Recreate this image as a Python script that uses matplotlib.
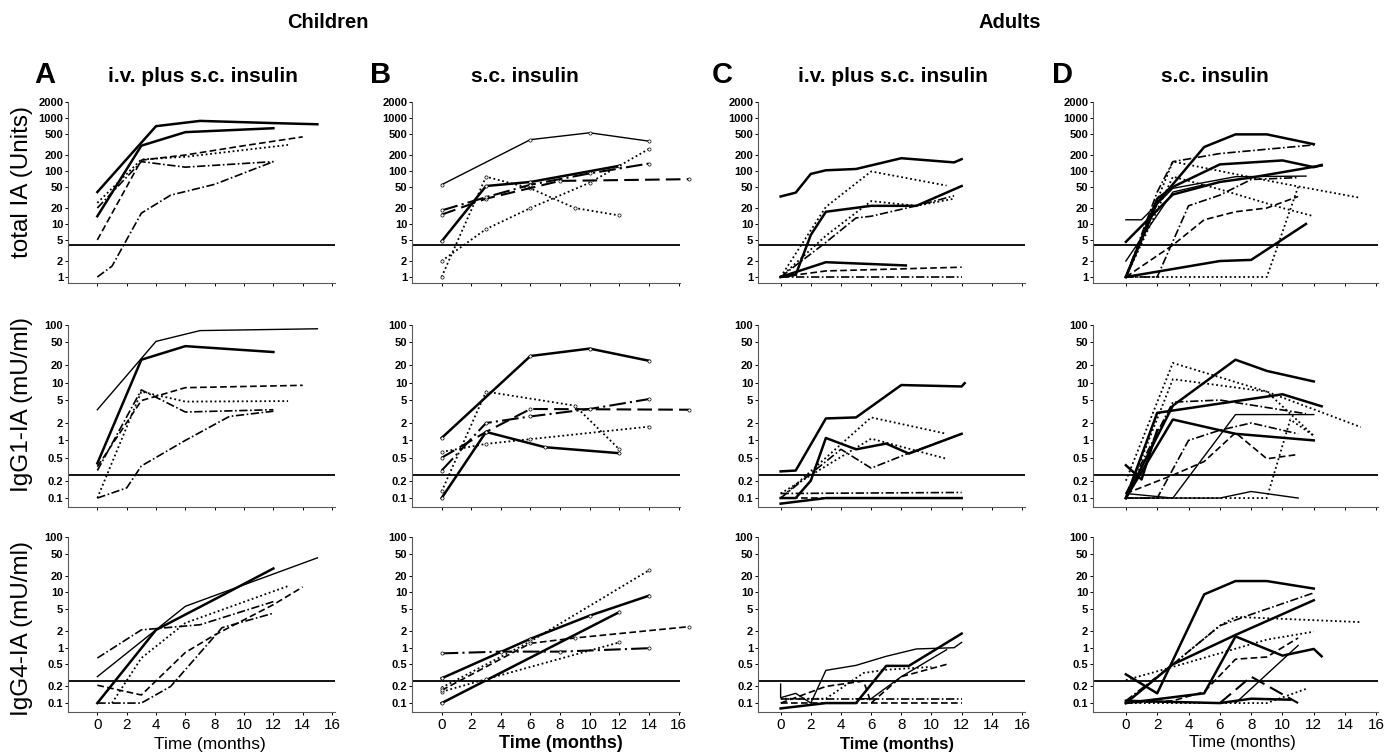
import matplotlib
matplotlib.use('Agg')
import matplotlib.pyplot as plt
from matplotlib.ticker import FixedLocator, FixedFormatter, NullLocator

plt.rcParams['font.family'] = ['Liberation Sans', 'DejaVu Sans']

# ---- data -------------------------------------------------------------
MONTH_TICKS = [0, 2, 4, 6, 8, 10, 12, 14, 16]
TOTAL_TICKS = [1, 2, 5, 10, 20, 50, 100, 200, 500, 1000, 2000]
IGG_TICKS = [0.1, 0.2, 0.5, 1, 2, 5, 10, 20, 50, 100]
CUTOFF_TOTAL = 4
CUTOFF_IGG = 0.25

# each series: (months, values); line style codes kept separately
A_TOTAL = [([0, 4, 7, 12, 15], [40, 700, 880, 800, 760]),
           ([0, 3, 6, 12], [14, 300, 540, 640]),
           ([0, 3, 6, 10, 14], [5, 160, 200, 300, 440]),
           ([0, 3, 6, 13], [25, 165, 185, 310]),
           ([0, 3, 6, 12], [20, 150, 118, 150]),
           ([0, 1, 3, 5, 8, 12], [1, 1.6, 16, 35, 56, 150])]
A_TOTAL_LS = ['S', 'S', 'd', 'o', 'c', 'c']

A_IGG1 = [([0, 4, 7, 15], [3.4, 52, 80, 86]),
          ([0, 3, 6, 12], [0.4, 25, 43, 34]),
          ([0, 3, 6, 14], [0.35, 4.9, 8.2, 9]),
          ([0, 3, 6, 13], [0.1, 7, 4.7, 4.8]),
          ([0, 3, 6, 12], [0.3, 7.5, 3.1, 3.4]),
          ([0, 2, 3, 6, 9, 12], [0.1, 0.15, 0.36, 1.0, 2.6, 3.2])]
A_IGG1_LS = ['s', 'S', 'd', 'o', 'c', 'c']

A_IGG4 = [([0, 4, 8, 12], [0.1, 2.1, 7.5, 27]),
          ([0, 6, 15], [0.3, 5.6, 42]),
          ([1, 3, 6, 13], [0.1, 0.65, 2.8, 13]),
          ([0, 3, 7, 12], [0.65, 2.1, 2.6, 6.8]),
          ([0, 3, 6, 8, 12, 14], [0.21, 0.14, 0.82, 1.7, 6, 12.5]),
          ([0, 3, 5, 8.5, 12], [0.1, 0.1, 0.2, 2.3, 4.2])]
A_IGG4_LS = ['S', 's', 'o', 'c', 'd', 'c']

B_TOTAL = [([0, 6, 10, 14], [55, 390, 525, 365]),
           ([0, 3, 6, 12], [4.7, 52, 62, 125]),
           ([0, 3, 6, 9, 12], [1, 78, 47, 20, 14.5]),
           ([0, 3, 6, 10, 14], [2, 8, 20, 60, 260]),
           ([0, 3, 8, 16.7], [15, 30, 65, 70]),
           ([0, 3, 6, 10, 14], [18, 32, 55, 90, 138])]
B_TOTAL_LS = ['s', 'S', 'o', 'o', 'D', 'C']

B_IGG1 = [([0, 6, 10, 14], [1.1, 29, 39, 24]),
          ([0, 3, 7, 12], [0.1, 1.4, 0.76, 0.6]),
          ([0, 3, 9, 12], [0.13, 7, 4, 0.7]),
          ([0, 3, 6, 14], [0.63, 0.87, 1.05, 1.73]),
          ([0, 3, 6, 16.7], [0.5, 1.4, 3.5, 3.4]),
          ([0, 3, 6, 10, 14], [0.3, 2, 2.6, 3.5, 5.2])]
B_IGG1_LS = ['S', 'S', 'o', 'o', 'D', 'C']

B_IGG4 = [([0, 6, 10, 14], [0.28, 1.45, 3.8, 8.7]),
          ([0, 12], [0.1, 4.4]),
          ([0, 6, 14], [0.19, 1.3, 25]),
          ([0, 3, 12], [0.16, 0.27, 1.25]),
          ([0, 6, 9, 16.7], [0.17, 1.2, 1.5, 2.4]),
          ([0, 4, 8, 14], [0.79, 0.85, 0.85, 0.98])]
B_IGG4_LS = ['S', 'S', 'o', 'o', 'd', 'C']

C_TOTAL = [([0, 1, 2, 3, 5, 8, 11.5, 12], [33, 39, 88, 103, 109, 174, 145, 167]),
           ([0, 3, 6, 11], [1, 21, 98, 53]),
           ([0, 1, 2, 3, 6, 9, 12], [1, 1.1, 6.2, 17, 22, 22, 52]),
           ([0, 3, 5, 6, 9, 11.5], [1, 4.5, 13, 14, 22, 34]),
           ([0, 3, 6, 9, 11.5], [1, 6, 27, 22, 30]),
           ([0, 3, 8.3], [1, 1.9, 1.65]),
           ([0, 3, 12], [1, 1.3, 1.53]),
           ([0, 12], [1, 1.0])]
C_TOTAL_LS = ['S', 'o', 'S', 'c', 'o', 'S', 'd', 'c']

C_IGG1 = [([0, 1, 3, 5, 8, 12, 12.2], [0.29, 0.3, 2.4, 2.5, 9.1, 8.6, 9.8]),
          ([0, 6, 11], [0.1, 2.5, 1.3]),
          ([0, 1, 2, 3, 5, 7, 8.5, 12], [0.1, 0.1, 0.2, 1.1, 0.7, 0.88, 0.59, 1.3]),
          ([0, 6, 11], [0.12, 1.07, 0.48]),
          ([0, 4, 6, 8.5, 12], [0.1, 0.7, 0.33, 0.6, 1.3]),
          ([0, 12], [0.12, 0.125]),
          ([0, 12], [0.1, 0.1]),
          ([0, 3, 12], [0.08, 0.1, 0.1])]
C_IGG1_LS = ['S', 'o', 'S', 'o', 'c', 'c', 'd', 'S']

C_IGG4 = [([0, 0, 1, 2, 3, 5, 7, 9, 11.5, 12],
           [0.22, 0.125, 0.15, 0.1, 0.39, 0.48, 0.7, 0.95, 1.0, 1.25]),
          ([0, 3, 5, 7, 8.5, 12], [0.08, 0.1, 0.1, 0.47, 0.47, 1.8]),
          ([5, 6, 8, 11], [0.12, 0.12, 0.3, 0.92]),
          ([0, 3, 5.5, 6, 8, 11], [0.1, 0.2, 0.25, 0.1, 0.3, 0.5]),
          ([0, 3, 5.5, 7, 10], [0.12, 0.12, 0.35, 0.4, 0.45]),
          ([0, 12], [0.12, 0.12]),
          ([0, 12], [0.1, 0.1])]
C_IGG4_LS = ['s', 'S', 's', 'd', 'o', 'c', 'd']

D_TOTAL = [([0, 2, 5, 7, 9, 12], [1, 25, 283, 490, 490, 320]),
           ([0, 2, 3, 6, 12], [1, 40, 150, 213, 310]),
           ([0, 2, 3, 6, 10, 12, 12.5], [1, 30, 50, 133, 158, 118, 130]),
           ([0, 3, 6, 8, 12.5], [4.6, 36, 62, 75, 127]),
           ([0, 1, 3, 7, 11.5], [12, 12, 47, 78, 80]),
           ([0, 3, 10, 15], [1, 150, 58, 31]),
           ([0, 3, 6, 10, 12], [1, 78, 45, 20, 14]),
           ([0, 2, 4, 6, 8, 11], [1, 1, 22, 35, 69, 75]),
           ([0, 3, 5, 7, 9, 11], [1, 4, 12, 17, 20, 33]),
           ([0, 9, 11], [1, 1, 50]),
           ([0, 6, 8, 11.5], [1, 2, 2.1, 10]),
           ([0, 3, 5], [2, 40, 55])]
D_TOTAL_LS = ['S', 'c', 'S', 'S', 's', 'o', 'o', 'c', 'd', 'o', 'S', 's']

D_IGG1 = [([0, 3, 7, 9, 12], [0.1, 4, 25, 16, 10.5]),
          ([0, 3, 9, 15], [0.2, 22, 7, 1.7]),
          ([0, 3, 9, 12], [0.1, 11.5, 7, 1.2]),
          ([0, 3, 6, 11.5], [0.12, 4.6, 5, 2.9]),
          ([0, 2, 10, 12.5], [0.1, 3, 6.3, 3.9]),
          ([0, 3, 7, 12], [0.1, 2.3, 1.3, 1.0]),
          ([0, 3, 7, 12], [0.1, 0.1, 2.8, 2.8]),
          ([0, 2, 4, 6, 8, 11], [0.1, 0.1, 1.0, 1.5, 2.0, 1.3]),
          ([0, 3, 5, 7, 9, 11], [0.12, 0.25, 0.43, 1.36, 0.48, 0.57]),
          ([0, 9, 10.5, 12], [0.1, 0.1, 2.3, 1.2]),
          ([0, 3, 6, 8, 11], [0.12, 0.1, 0.1, 0.13, 0.1]),
          ([0, 1, 2], [0.37, 0.21, 1.5])]
D_IGG1_LS = ['S', 'o', 'o', 'c', 'S', 'S', 's', 'c', 'd', 'o', 's', 'S']

D_IGG4 = [([0, 2, 5, 7, 9, 12], [0.33, 0.15, 9.2, 16, 16, 11.7]),
          ([0, 3, 6, 8, 12], [0.11, 0.5, 2.5, 4, 9.8]),
          ([0, 3, 7, 12], [0.1, 0.5, 1.7, 7.2]),
          ([0, 6, 7, 15], [0.1, 2.5, 3.6, 2.9]),
          ([0, 3, 9, 12], [0.26, 0.45, 1.4, 1.95]),
          ([0, 5, 7, 10, 12, 12.5], [0.1, 0.15, 1.6, 0.72, 0.95, 0.7]),
          ([0, 3, 5, 7, 9, 11], [0.1, 0.11, 0.16, 0.62, 0.68, 1.5]),
          ([6, 8, 11], [0.1, 0.3, 0.1]),
          ([7, 11], [0.1, 1.1]),
          ([0, 9, 11.5], [0.1, 0.1, 0.18]),
          ([0, 6, 8, 10.5], [0.11, 0.1, 0.12, 0.115])]
D_IGG4_LS = ['S', 'c', 'S', 'o', 'o', 'S', 'd', 'D', 's', 'o', 'S']

# ---- layout ------------------------------------------------------------
W, H = 1398, 756
STYLE = {
    'S': dict(ls='-', lw=1.8),
    's': dict(ls='-', lw=1.0),
    'd': dict(ls=(0, (4, 2)), lw=1.2),
    'D': dict(ls=(0, (7, 3)), lw=1.5),
    'o': dict(ls=(0, (1, 1.5)), lw=1.3),
    'c': dict(ls=(0, (5, 1.5, 1, 1.5)), lw=1.2),
    'C': dict(ls=(0, (8, 2, 1, 2)), lw=1.5),
}

cols = [(68, 335, (-2, 16.2)), (412, 680, (-2, 16.1)),
        (758, 1025, (-1.5, 16.2)), (1093, 1378, (-2.1, 16.1))]
rows = [(102, 283, (0.77, 2000), TOTAL_TICKS, CUTOFF_TOTAL),
        (325, 507, (0.07, 100), IGG_TICKS, CUTOFF_IGG),
        (537, 712, (0.069, 100), IGG_TICKS, CUTOFF_IGG)]
panels = [[(A_TOTAL, A_TOTAL_LS), (B_TOTAL, B_TOTAL_LS), (C_TOTAL, C_TOTAL_LS), (D_TOTAL, D_TOTAL_LS)],
          [(A_IGG1, A_IGG1_LS), (B_IGG1, B_IGG1_LS), (C_IGG1, C_IGG1_LS), (D_IGG1, D_IGG1_LS)],
          [(A_IGG4, A_IGG4_LS), (B_IGG4, B_IGG4_LS), (C_IGG4, C_IGG4_LS), (D_IGG4, D_IGG4_LS)]]


def fmt(v):
    return str(v) if v < 1 else str(int(v))


fig = plt.figure(figsize=(W / 100, H / 100), dpi=100)

for ri, (top, bot, ylim, yticks, cutoff) in enumerate(rows):
    for ci, (left, right, xlim) in enumerate(cols):
        ax = fig.add_axes([left / W, 1 - bot / H, (right - left) / W, (bot - top) / H])
        series, styles = panels[ri][ci]
        for (xs, ys), code in zip(series, styles):
            extra = {}
            if ci == 1:
                extra = dict(marker='o', ms=2.3, mfc='white', mec='black', mew=0.5)
            ax.plot(xs, ys, color='black', clip_on=False, **STYLE[code], **extra)
        ax.axhline(cutoff, color='black', lw=1.3)
        ax.set_yscale('log')
        ax.set_ylim(*ylim)
        ax.set_xlim(*xlim)
        ax.yaxis.set_major_locator(FixedLocator(yticks))
        ax.yaxis.set_major_formatter(FixedFormatter([fmt(v) for v in yticks]))
        ax.yaxis.set_minor_locator(NullLocator())
        ax.set_xticks(MONTH_TICKS)
        for s in ['top', 'right']:
            ax.spines[s].set_visible(False)
        for s in ['left', 'bottom']:
            ax.spines[s].set_color('0.35')
            ax.spines[s].set_linewidth(0.8)
        ax.tick_params(axis='y', length=2.5, width=0.7, pad=1, labelsize=8)
        ax.tick_params(axis='x', length=2.5, width=0.7, labelsize=11, pad=1.5)
        for lab in ax.get_yticklabels():
            lab.set_fontweight('bold')
        if ri < 2:
            ax.set_xticklabels([])

# ---- texts -------------------------------------------------------------
def ftext(x, y, s, **kw):
    fig.text(x / W, 1 - y / H, s, ha='center', va='center', **kw)


ftext(328, 22, 'Children', fontsize=14.5, fontweight='bold')
ftext(1010, 22, 'Adults', fontsize=14.5, fontweight='bold')
for letter, x in zip('ABCD', [45, 381, 722, 1062]):
    ftext(x, 75, letter, fontsize=21, fontweight='bold')
for title, x in zip(['i.v. plus s.c. insulin', 's.c. insulin',
                     'i.v. plus s.c. insulin', 's.c. insulin'], [203, 525, 893, 1215]):
    ftext(x, 76, title, fontsize=15, fontweight='bold')
for label, y in zip(['total IA (Units)', 'IgG1-IA (mU/ml)', 'IgG4-IA (mU/ml)'],
                    [182, 405, 628]):
    ftext(22, y, label, fontsize=17.5, rotation=90)
ftext(210, 744, 'Time (months)', fontsize=12.5)
ftext(561, 744, 'Time (months)', fontsize=13, fontweight='bold')
ftext(897, 745, 'Time (months)', fontsize=12, fontweight='bold')
ftext(1242, 742, 'Time (months)', fontsize=12)

fig.savefig('out.png', dpi=100)
